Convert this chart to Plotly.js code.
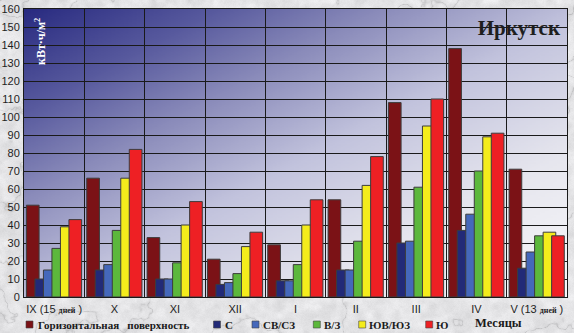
<!DOCTYPE html>
<html>
<head>
<meta charset="utf-8">
<script src="https://cdn.plot.ly/plotly-3.0.1.min.js"></script>
<style>
html,body{margin:0;padding:0;background:#dedee0;}
#chart{width:574px;height:333px;}
</style>
</head>
<body>
<div id="chart"></div>
<script>
// ---- data ----
const months = ['IX (15 дней )','X','XI','XII','I','II','III','IV','V (13 дней )'];
const seriesNames = ['Горизонтальная поверхность','С','СВ/СЗ','В/З','ЮВ/ЮЗ','Ю'];
const horizontal = [51,66,33,21,29,54,108,138,71];
const north      = [10,15,10,7,9,15,30,37,16];
const northEW    = [15,18,10,8,9,15,31,46,25];
const eastWest   = [27,37,19,13,18,31,61,70,34];
const southEW    = [39,66,40,28,40,62,95,89,36];
const south      = [43,82,53,36,54,78,110,91,34];
const yTicks = [0,10,20,30,40,50,60,70,80,90,100,110,120,130,140,150,160];
const chartTitle = 'Иркутск';
const yTitle = 'кВт·ч/м<sup>2</sup>';
const xTitle = 'Месяцы';

// ---- styling ----
const colors = ['#7b1216','#222a78','#4568bb','#5cb83c','#f4ec1c','#ee2024'];
const seriesValues = [horizontal, north, northEW, eastWest, southEW, south];
const W = 574, H = 333;
const M = {l:24, r:7, t:9, b:36};
const PW = W - M.l - M.r, PH = H - M.t - M.b;
const px2x = p => (p - M.l) / PW;
const py2y = p => (H - M.b - p) / PH;
const serif = '"Times New Roman", "Liberation Serif", "DejaVu Serif", serif';
const sans = 'Arial, "Liberation Sans", sans-serif';

// background textures (decoration only)
function hash(x, y){ const h = Math.sin(x*127.1 + y*311.7) * 43758.5453; return h - Math.floor(h); }
function vnoise(x, y){
  const xi = Math.floor(x), yi = Math.floor(y), xf = x - xi, yf = y - yi;
  const a = hash(xi,yi), b = hash(xi+1,yi), c = hash(xi,yi+1), d = hash(xi+1,yi+1);
  const u = xf*xf*(3-2*xf), v = yf*yf*(3-2*yf);
  return a + (b-a)*u + (c-a)*v + (a-b-c+d)*u*v;
}
function fbm(x, y){ let s=0, a=0.5, f=1; for(let i=0;i<5;i++){ s += a*vnoise(x*f,y*f); a*=0.5; f*=2; } return s; }
function marble(){
  const c = document.createElement('canvas'); c.width = W; c.height = H;
  const ctx = c.getContext('2d'); const img = ctx.createImageData(W, H);
  for(let y=0;y<H;y++) for(let x=0;x<W;x++){
    const n = fbm(x/45, y/45);
    const s = Math.abs(Math.sin(x*0.015 + y*0.03 + n*8));
    const vein = Math.pow(1 - s, 14);
    const mott = fbm(x/9+5, y/9+9);
    const g = hash(x*0.7, y*1.3);
    let v = 214 + 34*mott - 30*vein - 5*g;
    v = Math.max(165, Math.min(248, v));
    const i = (y*W + x)*4;
    img.data[i]=v; img.data[i+1]=v; img.data[i+2]=v+2; img.data[i+3]=255;
  }
  ctx.putImageData(img,0,0);
  return c.toDataURL('image/png');
}
function gradient(){
  const c = document.createElement('canvas'); c.width = 256; c.height = 256;
  const ctx = c.getContext('2d');
  const g = ctx.createLinearGradient(0,0,256,256);
  g.addColorStop(0.00,'rgb(40,42,128)');
  g.addColorStop(0.18,'rgb(88,90,158)');
  g.addColorStop(0.33,'rgb(138,139,186)');
  g.addColorStop(0.52,'rgb(194,195,221)');
  g.addColorStop(0.75,'rgb(230,230,238)');
  g.addColorStop(1.00,'rgb(248,248,250)');
  ctx.fillStyle = g; ctx.fillRect(0,0,256,256);
  return c.toDataURL('image/png');
}

// ---- traces ----
const barW = 0.21, step = 0.141, off0 = -0.46;
const traces = seriesNames.map((name, i) => ({
  type: 'bar', name: name, x: months, y: seriesValues[i],
  width: barW, offset: off0 + i*step,
  marker: {color: colors[i], line: {color: '#3c3c3c', width: 1}},
  showlegend: false, hoverinfo: 'x+y+name'
}));

const tickText = months.map(m => m.replace('дней',
  '<span style="font-family:' + "'Times New Roman','Liberation Serif',serif" + ';font-size:8px;font-weight:bold">дней</span>'));

// ---- manual legend (positions in px) ----
const legSqX  = [26, 213.5, 252, 313.3, 358.7, 425.7];
const legTxtX = [35.5, 223, 261, 321.7, 367.3, 434];
const legY = 324.5, sq = 7;
const legendLabels = seriesNames.slice();
legendLabels[0] = 'Горизонтальная\u00a0\u00a0 поверхность';

const shapes = seriesNames.map((n, i) => ({
  type: 'rect', xref: 'paper', yref: 'paper',
  x0: px2x(legSqX[i]), x1: px2x(legSqX[i] + sq),
  y0: py2y(legY + sq/2), y1: py2y(legY - sq/2),
  fillcolor: colors[i], line: {color: '#444', width: 0.6}
}));

const annotations = legendLabels.map((t, i) => ({
  text: '<b>' + t + '</b>', xref: 'paper', yref: 'paper',
  x: px2x(legTxtX[i]), y: py2y(legY), xanchor: 'left', yanchor: 'middle',
  showarrow: false, font: {family: serif, size: 11, color: '#1a1a1a'}
}));
annotations.push({
  text: '<b>' + xTitle + '</b>', xref: 'paper', yref: 'paper',
  x: px2x(473), y: py2y(322.5), xanchor: 'left', yanchor: 'middle',
  showarrow: false, font: {family: serif, size: 12.5, color: '#1a1a1a'}
});
annotations.push({
  text: '<b>' + yTitle + '</b>', xref: 'paper', yref: 'paper',
  x: px2x(40), y: py2y(42), xanchor: 'center', yanchor: 'middle', textangle: -90,
  showarrow: false, font: {family: serif, size: 12, color: '#ffffff'}
});

const layout = {
  width: W, height: H, margin: M,
  paper_bgcolor: '#dedee0', plot_bgcolor: 'rgba(0,0,0,0)',
  barmode: 'overlay', bargap: 0,
  title: {text: '<b>' + chartTitle + '</b>', xref: 'paper', x: px2x(560), xanchor: 'right',
          yref: 'container', y: 1 - 27.5/H, yanchor: 'middle',
          font: {family: serif, size: 21, color: '#1e1e1e'}},
  xaxis: {
    type: 'category', tickson: 'boundaries', tickmode: 'array', tickvals: months, ticktext: tickText,
    tickangle: 0, automargin: false, ticklabelstandoff: 2,
    showgrid: true, gridcolor: '#1a1a1a', gridwidth: 1, ticks: '',
    showline: true, linecolor: '#1a1a1a', linewidth: 1, mirror: true,
    tickfont: {family: sans, size: 11, color: '#1e1e1e'}, range: [-0.5, 8.5], fixedrange: true
  },
  yaxis: {
    range: [0, 160], tickmode: 'array', tickvals: yTicks, ticks: '', automargin: false,
    showgrid: true, gridcolor: '#1a1a1a', gridwidth: 1, zeroline: false,
    showline: true, linecolor: '#1a1a1a', linewidth: 1, mirror: true,
    tickfont: {family: sans, size: 11, color: '#1e1e1e'}, ticklabelstandoff: 1, fixedrange: true
  },
  shapes: shapes,
  annotations: annotations,
  images: [
    {source: marble(), xref: 'paper', yref: 'paper', x: -M.l/PW, y: 1 + M.t/PH,
     sizex: W/PW, sizey: H/PH, sizing: 'stretch', xanchor: 'left', yanchor: 'top', layer: 'below'},
    {source: gradient(), xref: 'paper', yref: 'paper', x: 0, y: 1, sizex: 1, sizey: 1,
     sizing: 'stretch', xanchor: 'left', yanchor: 'top', layer: 'below'}
  ]
};

Plotly.newPlot('chart', traces, layout, {displayModeBar: false, staticPlot: true});
</script>
</body>
</html>
